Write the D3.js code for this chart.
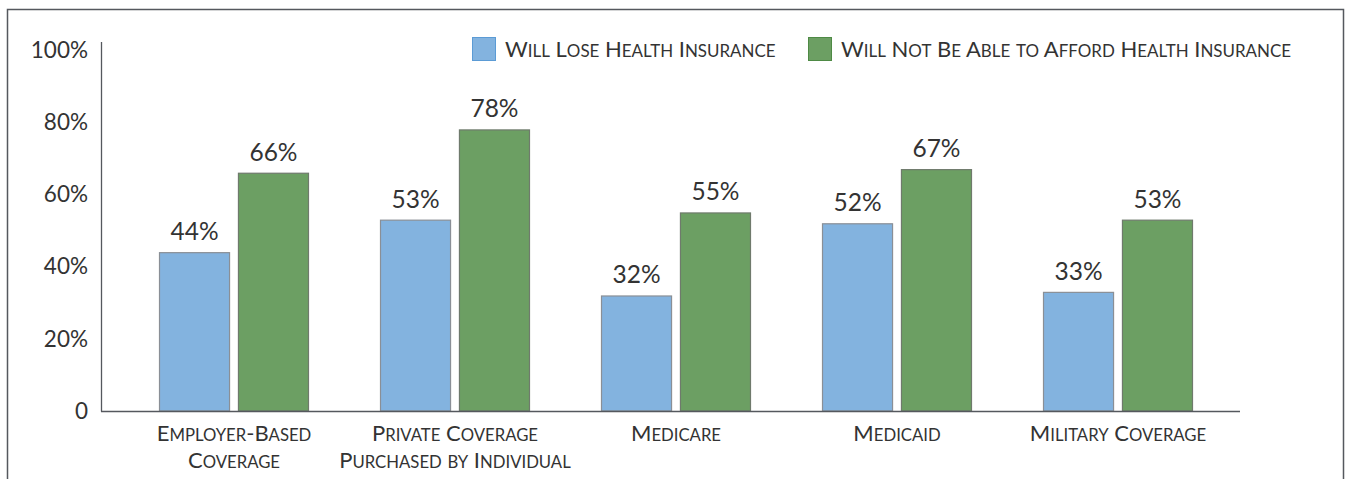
<!DOCTYPE html>
<html><head><meta charset="utf-8">
<script src="https://cdn.jsdelivr.net/npm/d3@7"></script>
<style>
html,body{margin:0;padding:0;background:#fff;}
svg{display:block;font-family:Lato,"Open Sans",sans-serif;}
</style></head>
<body>
<svg id="chart" width="1351" height="479"></svg>
<script>
const categories = [["Employer-Based","Coverage"],["Private Coverage","Purchased by Individual"],["Medicare"],["Medicaid"],["Military Coverage"]];
const categoryKeys = ["Employer-Based Coverage","Private Coverage Purchased by Individual","Medicare","Medicaid","Military Coverage"];
const seriesNames = ["Will Lose Health Insurance","Will Not Be Able to Afford Health Insurance"];
const loseValues = [44,53,32,52,33];
const affordValues = [66,78,55,67,53];
const yTicks = [0,20,40,60,80,100];
const yTickLabels = ["0","20%","40%","60%","80%","100%"];

const colors = ["#83b3df","#6c9f63"];
const strokes = ["#8a8f96","#6f7a6c"];

const svg = d3.select("#chart");
svg.append("path").attr("d","M7.5,490 V9.5 H1343.5 V490").attr("fill","none").attr("stroke","#55585e").attr("stroke-width",1.5);

const x0 = 101, x1 = 1240, yBase = 411, yTop = 50;
const y = d3.scaleLinear().domain([0,100]).range([yBase,yTop]);
const xc = d3.scalePoint().domain(categoryKeys).range([234,1118]);
const sub = d3.scaleBand().domain([0,1]).range([-75,75]).paddingInner(0.1);

function smallCaps(sel, str, size, ratio){
  const runs = [];
  for (const ch of str){
    const small = ch !== ch.toUpperCase();
    const last = runs[runs.length-1];
    if (last && last.small === small) last.t += ch; else runs.push({small, t: ch});
  }
  sel.selectAll("tspan").data(runs).join("tspan")
    .attr("font-size", d => d.small ? size*ratio : size)
    .text(d => d.t.toUpperCase());
}

svg.append("g").selectAll("text").data(yTicks).join("text")
  .attr("x",88).attr("y",d=>y(d)).attr("dy","0.35em").attr("text-anchor","end")
  .attr("font-size",22.5).attr("fill","#333")
  .text((d,i)=>yTickLabels[i]);

const series = [loseValues, affordValues];
series.forEach((vals,si)=>{
  const g = svg.append("g");
  g.selectAll("rect").data(vals).join("rect")
    .attr("x",(d,i)=>xc(categoryKeys[i])+sub(si)+0.5)
    .attr("y",d=>y(d)+0.5)
    .attr("width",sub.bandwidth()-1)
    .attr("height",d=>yBase-y(d)-0.5)
    .attr("fill",colors[si]).attr("stroke",strokes[si]).attr("stroke-width",1.2);
  g.selectAll("text").data(vals).join("text")
    .attr("x",(d,i)=>xc(categoryKeys[i])+sub(si)+sub.bandwidth()/2)
    .attr("y",d=>y(d)-12)
    .attr("text-anchor","middle").attr("font-size",24.5).attr("fill","#333")
    .text(d=>d+"%");
});

svg.append("line").attr("x1",x0+0.5).attr("x2",x0+0.5).attr("y1",42).attr("y2",yBase+0.5).attr("stroke","#55585e").attr("stroke-width",1.3);
svg.append("line").attr("x1",x0).attr("x2",x1).attr("y1",yBase+0.5).attr("y2",yBase+0.5).attr("stroke","#55585e").attr("stroke-width",1.3);

const cl = svg.append("g");
categories.forEach((lines,i)=>{
  lines.forEach((ln,j)=>{
    const t = cl.append("text").attr("x",xc(categoryKeys[i])).attr("y",441+j*27)
      .attr("text-anchor","middle").attr("fill","#333");
    smallCaps(t, ln, 22, 0.76);
  });
});

const legendX = [472,808];
const lg = svg.append("g");
seriesNames.forEach((n,i)=>{
  lg.append("rect").attr("x",legendX[i]+0.5).attr("y",37.5).attr("width",23).attr("height",23)
    .attr("fill",colors[i]).attr("stroke",i===0?"#5b9bd5":"#4e8a45").attr("stroke-width",1);
  const t = lg.append("text").attr("x",legendX[i]+33).attr("y",57).attr("fill","#333");
  smallCaps(t, n, 22, 0.77);
});
</script>
</body></html>
